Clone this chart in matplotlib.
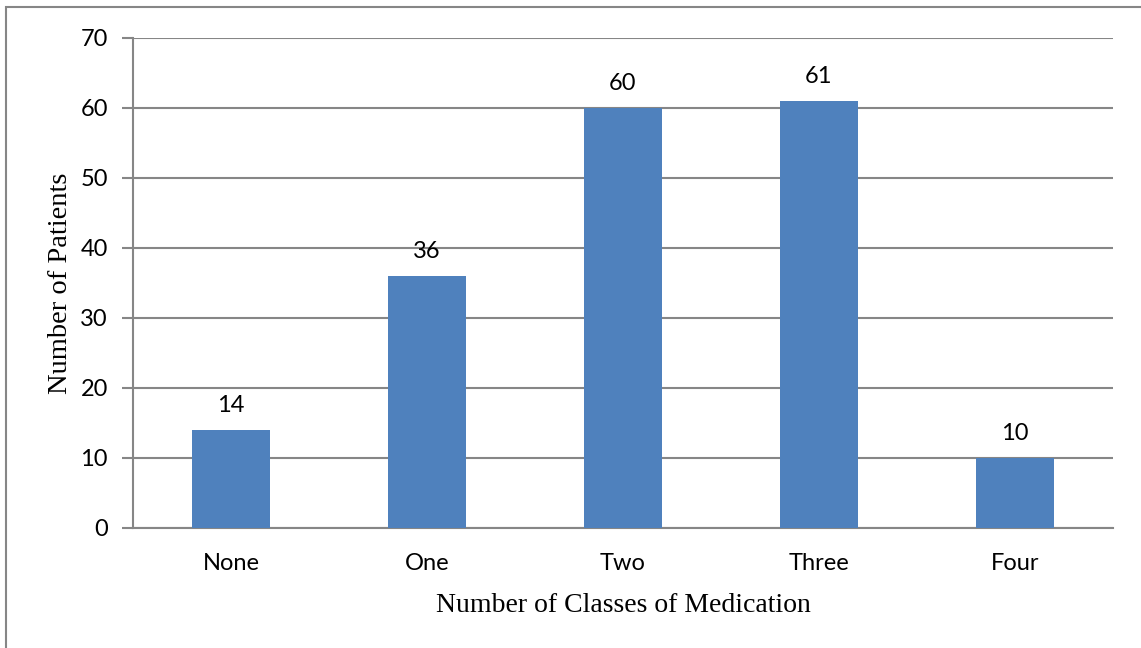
import matplotlib.pyplot as plt
from matplotlib.patches import Rectangle

categories = ["None", "One", "Two", "Three", "Four"]
patients = [14, 36, 60, 61, 10]
yticks = [0, 10, 20, 30, 40, 50, 60, 70]

bar_color = "#4F81BD"
grid_color = "#868686"


def main():
  fig = plt.figure(figsize=(11.41, 6.48), dpi=100)
  # outer chart border (only top/left edges fall inside the image)
  fig.patches.append(Rectangle((6 / 1141, -0.1), 1.2, 1 - 7 / 648 + 0.1,
                               transform=fig.transFigure, fill=False,
                               edgecolor=grid_color, linewidth=1.5))

  ax = fig.add_axes([133 / 1141, 1 - 528 / 648, (1113 - 133) / 1141, (528 - 38) / 648])
  x = list(range(len(categories)))
  ax.bar(x, patients, width=0.4, color=bar_color, zorder=3)
  for xi, v in zip(x, patients):
    ax.annotate(str(v), (xi, v), xytext=(0, 10), textcoords="offset points",
                ha="center", va="bottom", fontsize=17, family="Lato")

  ax.set_xlim(-0.5, len(categories) - 0.5)
  ax.set_ylim(0, 70)
  ax.set_yticks(yticks)
  ax.set_xticks(x)
  ax.set_xticklabels(categories)
  for lab in ax.get_xticklabels() + ax.get_yticklabels():
    lab.set_family("Lato")
    lab.set_fontsize(17)
  ax.tick_params(axis="x", length=0, pad=18)
  ax.tick_params(axis="y", length=8, width=1.5, color=grid_color, pad=10)
  ax.yaxis.grid(True, color=grid_color, linewidth=1.5, zorder=0)
  ax.set_axisbelow(True)
  for s in ["top", "right"]:
    ax.spines[s].set_visible(False)
  for s in ["left", "bottom"]:
    ax.spines[s].set_color(grid_color)
    ax.spines[s].set_linewidth(1.5)

  ax.set_xlabel("Number of Classes of Medication", family="Liberation Serif",
                fontsize=20, labelpad=14)
  ax.set_ylabel("Number of Patients", family="Liberation Serif",
                fontsize=20.5, labelpad=5)

  plt.savefig("out.png", dpi=100)
  return

if __name__=="__main__":
  main()
